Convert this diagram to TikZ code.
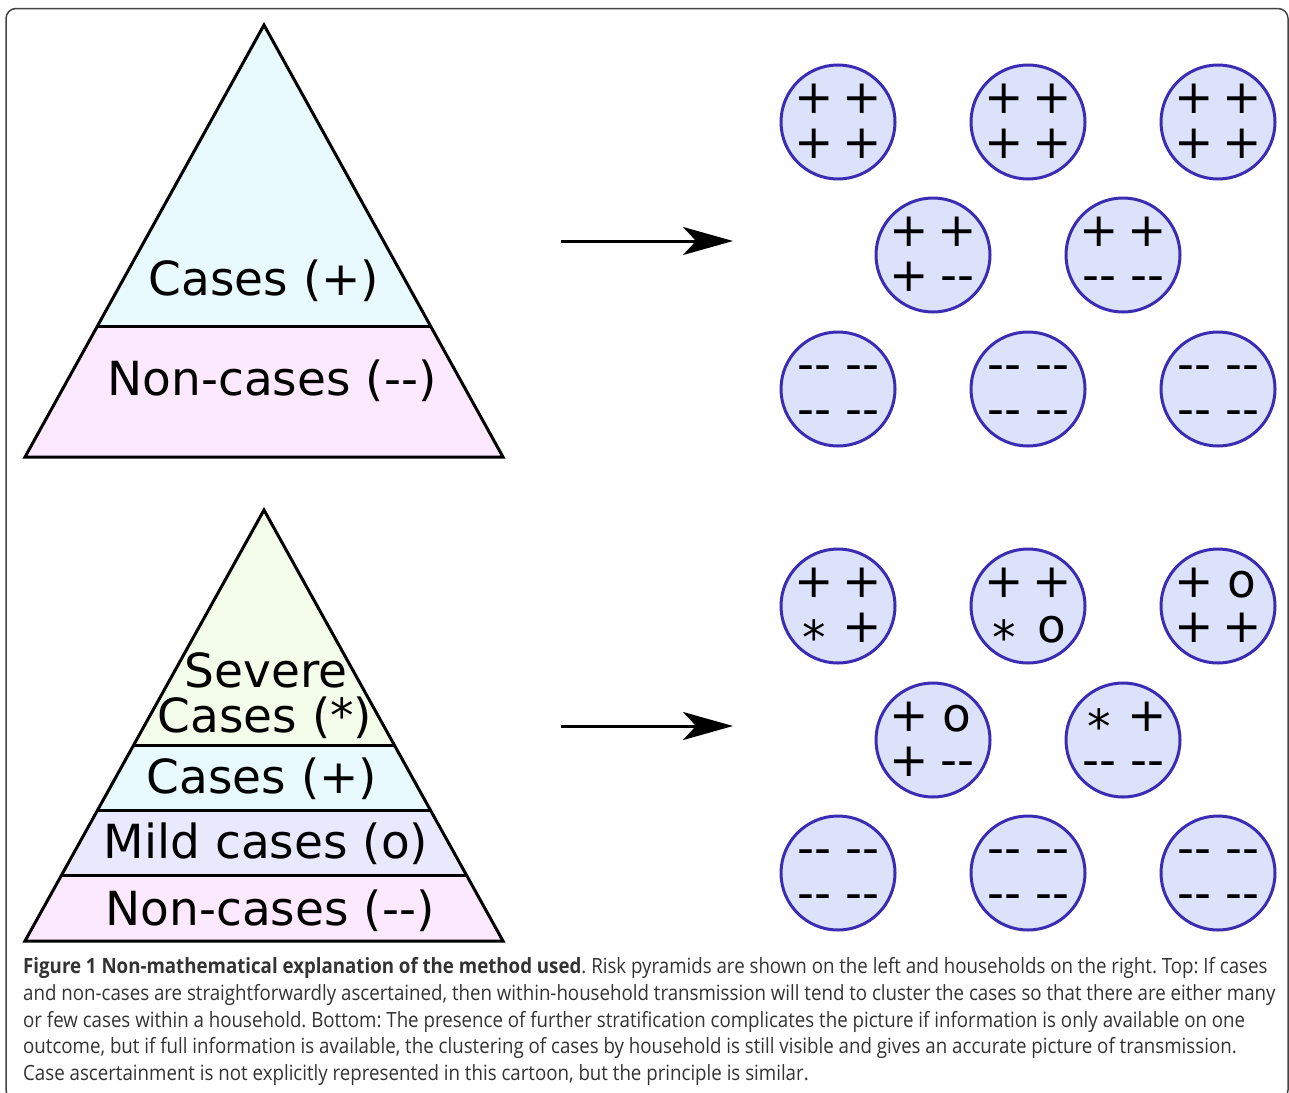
\documentclass[tikz,border=0pt]{standalone}
\usepackage{fontspec}
\setmainfont{DejaVu Sans}
\newfontfamily\capfont[FakeStretch=0.89]{Open Sans}
\usetikzlibrary{arrows.meta}
\definecolor{topcyan}{HTML}{E8FAFD}
\definecolor{pinkfill}{HTML}{FDE9FD}
\definecolor{greenfill}{HTML}{F3FDE9}
\definecolor{lavfill}{HTML}{E9E9FD}
\definecolor{hhfill}{HTML}{DDE2FB}
\definecolor{hhdraw}{HTML}{3B2DB3}
\definecolor{capgray}{HTML}{333333}
\definecolor{framegray}{HTML}{444444}
\tikzset{
  pyr/.style={line width=3pt, line join=miter},
  lbl/.style={anchor=base, inner sep=0pt, font=\fontsize{47}{47}\selectfont},
  hh/.style={circle, draw=hhdraw, fill=hhfill, line width=3pt, minimum size=114pt, inner sep=0pt},
  sym/.style={anchor=base, inner sep=0pt, font=\fontsize{47}{47}\selectfont},
  arr/.style={line width=3pt, -{Stealth[length=50pt, width=28pt, inset=13pt]}},
  capline/.style={anchor=base west, inner sep=0pt, text=capgray, font=\capfont\fontsize{21}{26}\selectfont\frenchspacing},
}
\newcommand\HouseHold[7]{%
  \node[hh] (#1) at (#2,#3) {};
  \node[sym] (#1-a) at ([shift={(-24,-8.5)}]#1.center) {#4};
  \node[sym] (#1-b) at ([shift={(24,-8.5)}]#1.center) {#5};
  \node[sym] (#1-c) at ([shift={(-24,36.5)}]#1.center) {#6};
  \node[sym] (#1-d) at ([shift={(24,36.5)}]#1.center) {#7};
}
\newcommand\dd{-{}-}
\newcommand\st{\raisebox{-12pt}[15pt][0pt]{*}}
\begin{document}
\begin{tikzpicture}[x=1pt,y=-1pt]
\useasboundingbox (0,0) rectangle (1289,1092);
\fill[white] (0,0) rectangle (1289,1092);
% frame
\draw[framegray, line width=1.5pt, rounded corners=10pt] (6,8.5) rectangle (1288,1100);

% top pyramid
\fill[topcyan] (264,25) -- (97.5,326) -- (430.5,326) -- cycle;
\fill[pinkfill] (97.5,326) -- (25,457) -- (503,457) -- (430.5,326) -- cycle;
\draw[pyr] (264,25) -- (25,457) -- (503,457) -- cycle;
\draw[pyr] (97.5,326) -- (430.5,326);
\node[lbl] (tcases) at (264,295) {Cases (+)};
\node[lbl] (tnon) at (272,395) {Non-cases (\dd)};

% bottom pyramid
\fill[greenfill] (264,510) -- (133.7,745) -- (394.3,745) -- cycle;
\fill[topcyan] (133.7,745) -- (97.6,810) -- (430.4,810) -- (394.3,745) -- cycle;
\fill[lavfill] (97.6,810) -- (61.6,875) -- (466.4,875) -- (430.4,810) -- cycle;
\fill[pinkfill] (61.6,875) -- (25,941) -- (503,941) -- (466.4,875) -- cycle;
\draw[pyr] (264,510) -- (25,941) -- (503,941) -- cycle;
\draw[pyr] (133.7,745) -- (394.3,745);
\draw[pyr] (97.6,810) -- (430.4,810);
\draw[pyr] (61.6,875) -- (466.4,875);
\node[lbl] (bsev1) at (266,687) {Severe};
\node[lbl] (bsev2) at (265,732) {Cases (*)};
\node[lbl] (bcases) at (262,793) {Cases (+)};
\node[lbl] (bmild) at (266,858) {Mild cases (o)};
\node[lbl] (bnon) at (270,925) {Non-cases (\dd)};

% arrows
\coordinate (a1s) at (561,241);
\coordinate (a1e) at (733,241);
\coordinate (a2s) at (561,726);
\coordinate (a2e) at (733,726);
\draw[arr] (a1s) -- (a1e);
\draw[arr] (a2s) -- (a2e);

% top households
\HouseHold{h1}{838}{122}{+}{+}{+}{+}
\HouseHold{h2}{1028}{122}{+}{+}{+}{+}
\HouseHold{h3}{1218}{122}{+}{+}{+}{+}
\HouseHold{h4}{933}{255}{+}{+}{+}{\dd}
\HouseHold{h5}{1123}{255}{+}{+}{\dd}{\dd}
\HouseHold{h6}{838}{389}{\dd}{\dd}{\dd}{\dd}
\HouseHold{h7}{1028}{389}{\dd}{\dd}{\dd}{\dd}
\HouseHold{h8}{1218}{389}{\dd}{\dd}{\dd}{\dd}

% bottom households
\HouseHold{g1}{838}{606}{+}{+}{\st}{+}
\HouseHold{g2}{1028}{606}{+}{+}{\st}{o}
\HouseHold{g3}{1218}{606}{+}{o}{+}{+}
\HouseHold{g4}{933}{740}{+}{o}{+}{\dd}
\HouseHold{g5}{1123}{740}{\st}{+}{\dd}{\dd}
\HouseHold{g6}{838}{873}{\dd}{\dd}{\dd}{\dd}
\HouseHold{g7}{1028}{873}{\dd}{\dd}{\dd}{\dd}
\HouseHold{g8}{1218}{873}{\dd}{\dd}{\dd}{\dd}

% caption
\node[capline] (c1) at (23,973) {\textbf{Figure 1 Non-mathematical explanation of the method used}. Risk pyramids are shown on the left and households on the right. Top: If cases};
\node[capline] (c2) at (23,1000) {and non-cases are straightforwardly ascertained, then within-household transmission will tend to cluster the cases so that there are either many};
\node[capline] (c3) at (23,1027) {or few cases within a household. Bottom: The presence of further stratification complicates the picture if information is only available on one};
\node[capline] (c4) at (23,1053) {outcome, but if full information is available, the clustering of cases by household is still visible and gives an accurate picture of transmission.};
\node[capline] (c5) at (23,1080) {Case ascertainment is not explicitly represented in this cartoon, but the principle is similar.};
\end{tikzpicture}
\end{document}
